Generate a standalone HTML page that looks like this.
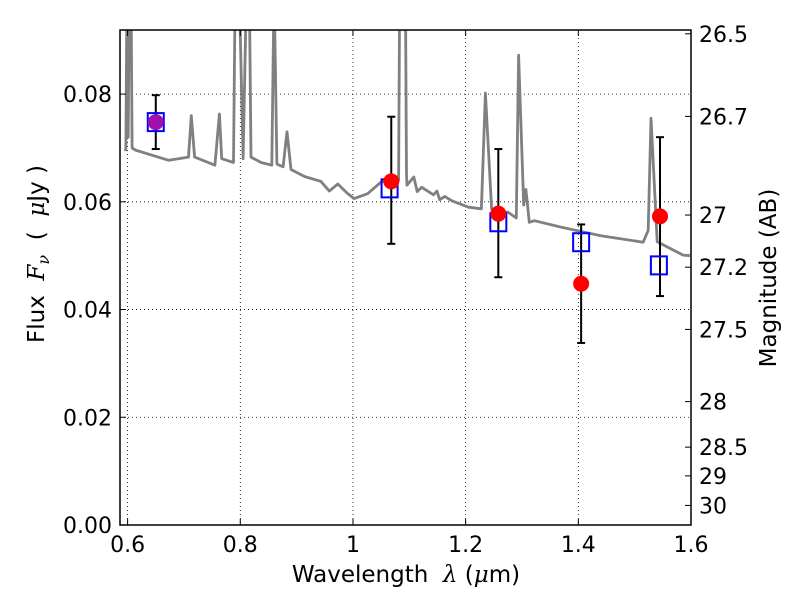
<!DOCTYPE html>
<html><head><meta charset="utf-8"><style>
body{margin:0;background:#fff}
svg{display:block;font-family:"DejaVu Sans","Liberation Sans",sans-serif}
text{white-space:pre}
.it{font-family:"DejaVu Serif","Liberation Serif",serif;font-style:italic}
</style></head><body>
<svg id="chart" width="800" height="600" xmlns="http://www.w3.org/2000/svg">
<text x="406" y="582" style="font-size:23px" text-anchor="middle">Wavelength  <tspan class="it">λ</tspan> (<tspan class="it">μ</tspan>m)</text>
<text transform="translate(44,254) rotate(-90)" style="font-size:23px" text-anchor="middle">Flux  <tspan class="it">F</tspan><tspan class="it" style="font-size:16px" dy="5">ν</tspan><tspan dy="-5">  (  </tspan><tspan class="it">μ</tspan>Jy )</text>
<text transform="translate(776,278) rotate(-90)" style="font-size:23px" text-anchor="middle">Magnitude (AB)</text>
</svg>
<script>
const specLam=[0.596,0.597,0.599,0.601,0.603,0.606,0.608,0.614,0.673,0.708,0.713,0.719,0.755,0.763,0.767,0.788,0.791,0.798,0.805,0.811,0.816,0.819,0.837,0.856,0.860,0.865,0.876,0.883,0.890,0.914,0.943,0.958,0.973,0.990,1.002,1.026,1.049,1.061,1.081,1.083,1.093,1.095,1.096,1.108,1.114,1.122,1.143,1.149,1.154,1.163,1.175,1.205,1.228,1.235,1.246,1.263,1.275,1.290,1.294,1.303,1.307,1.313,1.322,1.369,1.440,1.515,1.524,1.529,1.540,1.586,1.598];
const specFlux=[0.0694,0.070,0.100,0.072,0.100,0.100,0.070,0.0696,0.0677,0.0683,0.076,0.0683,0.0668,0.0763,0.068,0.0673,0.100,0.100,0.068,0.100,0.100,0.0683,0.0673,0.0668,0.100,0.067,0.0665,0.073,0.066,0.0647,0.0638,0.062,0.0633,0.0616,0.0606,0.0615,0.0636,0.0641,0.064,0.100,0.100,0.065,0.0631,0.0646,0.0619,0.0627,0.0613,0.062,0.0604,0.061,0.0602,0.059,0.0587,0.0802,0.0587,0.0581,0.0581,0.057,0.0872,0.0594,0.0623,0.0562,0.0565,0.0553,0.0537,0.0525,0.0547,0.0755,0.0526,0.0501,0.050];
const sqLam=[0.65,1.065,1.258,1.405,1.543];
const sqFlux=[0.0748,0.0625,0.0562,0.0525,0.0482];
const dotLam=[0.65,1.068,1.258,1.405,1.545];
const dotFlux=[0.0748,0.0638,0.0578,0.0448,0.0573];
const errLo=[0.0698,0.0522,0.046,0.0338,0.0425];
const errHi=[0.0798,0.0758,0.0698,0.0558,0.072];
const xTicks=[0.6,0.8,1.0,1.2,1.4,1.6];
const xTickLabels=["0.6","0.8","1","1.2","1.4","1.6"];
const yTicks=[0,0.02,0.04,0.06,0.08];
const yTickLabels=["0.00","0.02","0.04","0.06","0.08"];
const magTicks=[26.5,26.7,27,27.2,27.5,28,28.5,29,30];
const magLabels=["26.5","26.7","27","27.2","27.5","28","28.5","29","30"];

const L=120,R=691,T=30,B=525,xmin=0.5865,xmax=1.6,ymin=0,ymax=0.0919;
const X=v=>L+(v-xmin)/(xmax-xmin)*(R-L);
const Y=v=>B-(v-ymin)/(ymax-ymin)*(B-T);
const magToF=m=>Math.pow(10,(23.9-m)/2.5);
const svg=document.getElementById('chart');
const NS="http://www.w3.org/2000/svg";
function el(tag,attrs,parent){const e=document.createElementNS(NS,tag);for(const k in attrs)e.setAttribute(k,attrs[k]);(parent||svg).appendChild(e);return e;}

const defs=el('defs',{});
const cp=el('clipPath',{id:'clip'},defs);
el('rect',{x:L,y:T,width:R-L,height:B-T},cp);

const grid=el('g',{});


xTicks.forEach(v=>{el('line',{x1:X(v),x2:X(v),y1:T,y2:B,stroke:'#000','stroke-width':0.8,'stroke-dasharray':'1,3'},grid);});
yTicks.forEach(v=>{el('line',{x1:L,x2:R,y1:Y(v),y2:Y(v),stroke:'#000','stroke-width':0.8,'stroke-dasharray':'1,3'},grid);});

let d='';
specLam.forEach((l,i)=>{d+=(i?'L':'M')+X(l).toFixed(1)+','+Y(specFlux[i]).toFixed(1);});
const sp=el('path',{d:d,fill:'none',stroke:'#808080','stroke-width':2.8,'stroke-linejoin':'round','clip-path':'url(#clip)'});



dotLam.forEach((l,i)=>{
  const g=el('g',{});
  
  
  const x=X(l);
  el('line',{x1:x,x2:x,y1:Y(errLo[i]),y2:Y(errHi[i]),stroke:'#000','stroke-width':2},g);
  el('line',{x1:x-4,x2:x+4,y1:Y(errLo[i]),y2:Y(errLo[i]),stroke:'#000','stroke-width':2},g);
  el('line',{x1:x-4,x2:x+4,y1:Y(errHi[i]),y2:Y(errHi[i]),stroke:'#000','stroke-width':2},g);
});
sqLam.forEach((l,i)=>{
  const r=el('rect',{x:X(l)-8,y:Y(sqFlux[i])-9,width:16,height:18,fill:'none',stroke:'#0000ff','stroke-width':2});
  
  
});
dotLam.forEach((l,i)=>{
  const c=el('circle',{cx:X(l),cy:Y(dotFlux[i]),r:8,fill:i===0?'#a010b0':'#ff0000'});
  
  
});

const fr=el('rect',{x:L,y:T,width:R-L,height:B-T,fill:'none',stroke:'#000','stroke-width':1.5});



xTicks.forEach((v,i)=>{
  el('line',{x1:X(v),x2:X(v),y1:B,y2:B-6,stroke:'#000'});
  el('line',{x1:X(v),x2:X(v),y1:T,y2:T+6,stroke:'#000'});
  const t=el('text',{x:X(v),y:B+27,style:'font-size:22px','text-anchor':'middle'});
  
  
  t.textContent=xTickLabels[i];
});
yTicks.forEach((v,i)=>{
  el('line',{x1:L,x2:L+6,y1:Y(v),y2:Y(v),stroke:'#000'});
  const t=el('text',{x:L-8,y:Y(v)+8,style:'font-size:22px','text-anchor':'end'});
  
  
  t.textContent=yTickLabels[i];
});
magTicks.forEach((m,i)=>{
  const y=Y(magToF(m));
  el('line',{x1:R,x2:R-6,y1:y,y2:y,stroke:'#000'});
  const t=el('text',{x:R+8,y:y+8,style:'font-size:22px','text-anchor':'start'});
  
  
  t.textContent=magLabels[i];
});
</script>
</body></html>
